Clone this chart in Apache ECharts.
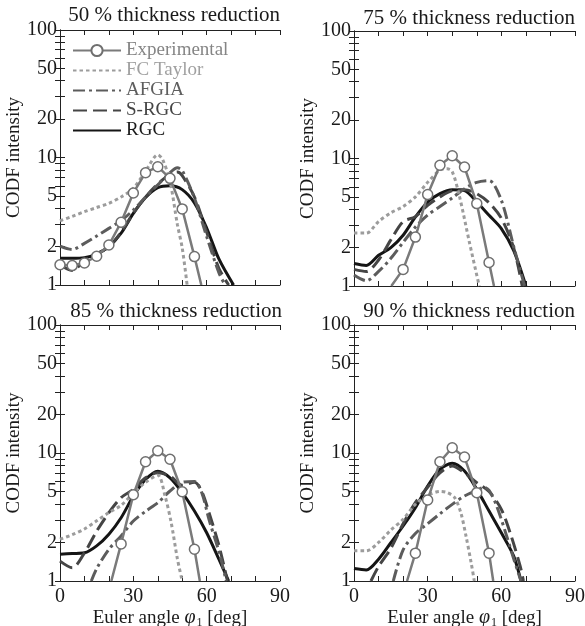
<!DOCTYPE html>
<html>
<head>
<meta charset="utf-8">
<script src="https://cdn.jsdelivr.net/npm/echarts@6/dist/echarts.min.js"></script>
<style>
html,body{margin:0;padding:0;background:#fff;}
#chart{width:585px;height:626px;}
</style>
</head>
<body>
<div id="chart"></div>
<script>
// ---- data ----
const seriesNames = ['Experimental', 'FC Taylor', 'AFGIA', 'S-RGC', 'RGC'];
const panelTitles = ['50 % thickness reduction', '75 % thickness reduction', '85 % thickness reduction', '90 % thickness reduction'];
const xLabelValues = [0, 30, 60, 90];
const yLabelValues = [1, 2, 5, 10, 20, 50, 100];
const yTickValues = [1,2,3,4,5,6,7,8,9,10,20,30,40,50,60,70,80,90,100];

// 50 %
const exp50 = [[0,1.44],[5,1.42],[10,1.49],[15,1.68],[20,2.06],[25,3.1],[30,5.27],[35,7.6],[40,8.47],[45,6.86],[50,3.95],[55,1.67],[57.8,1]];
const fct50 = [[0,3.19],[5,3.45],[10,3.76],[15,4.05],[20,4.37],[25,4.9],[30,5.73],[35,7.8],[40,10.5],[42,9.6],[45,6.5],[48,3.0],[50,1.95],[52,1]];
const afgia50 = [[0,2.02],[5,1.9],[10,2.12],[15,2.42],[20,2.78],[25,3.2],[30,3.87],[35,4.9],[40,6.1],[45,7.6],[48,8.3],[50,7.9],[55,4.8],[60,2.4],[65,1.25],[67.5,1]];
const srgc50 = [[0,1.44],[5,1.3],[10,1.55],[15,1.75],[20,2.0],[25,2.6],[30,3.65],[35,4.9],[40,6.2],[45,7.4],[48,7.7],[50,7.2],[55,4.9],[60,2.6],[65,1.35],[69,1]];
const rgc50 = [[0,1.62],[5,1.62],[10,1.64],[15,1.75],[20,2.0],[25,2.55],[30,3.65],[35,4.85],[40,5.8],[45,6.0],[50,5.6],[55,4.4],[60,2.8],[65,1.6],[71,1]];

// 75 %
const exp75 = [[15.2,1],[20,1.35],[25,2.42],[30,5.21],[35,8.85],[40,10.5],[45,8.58],[50,4.43],[55,1.53],[57,1]];
const fct75 = [[0,2.6],[5,2.6],[10,3.2],[15,3.75],[20,4.2],[25,5.0],[30,6.5],[35,8.1],[38,8.3],[40,7.9],[43,5.0],[47,2.2],[51,1]];
const afgia75 = [[0,1.22],[5,1.1],[10,1.3],[15,1.65],[20,2.2],[25,2.9],[30,3.6],[35,4.2],[40,4.9],[45,5.8],[50,6.5],[55,6.7],[60,4.7],[65,2.05],[69.5,1]];
const srgc75 = [[0,1.35],[5,1.3],[10,1.6],[15,2.3],[20,3.2],[25,3.5],[30,4.3],[35,5.0],[40,5.6],[45,5.7],[50,5.3],[55,4.5],[60,3.4],[65,2.0],[68.5,1]];
const rgc75 = [[0,1.5],[5,1.45],[10,1.74],[15,2.0],[20,2.5],[25,3.48],[30,4.56],[35,5.3],[40,5.7],[45,5.6],[50,4.56],[55,3.59],[60,2.82],[65,1.9],[70,1]];

// 85 %
const exp85 = [[21,1],[25,1.95],[30,4.72],[35,8.55],[40,10.4],[45,8.93],[50,4.98],[55,1.77],[57.2,1]];
const fct85 = [[0,2.12],[5,2.3],[10,2.55],[15,2.95],[20,3.42],[25,3.9],[30,4.85],[35,5.9],[40,6.7],[43,4.6],[45.5,2.85],[48,1.5],[50,1]];
const afgia85 = [[12.8,1],[15,1.25],[20,1.77],[25,2.25],[30,2.94],[35,3.5],[40,4.09],[45,5.05],[50,5.9],[55,6.0],[58,4.9],[61,3.0],[65,1.7],[68,1]];
const srgc85 = [[0,1.43],[5,1.27],[10,1.66],[15,2.45],[20,3.42],[25,4.48],[30,5.2],[35,6.4],[40,7.0],[45,6.6],[50,5.6],[55,5.9],[58,5.0],[61,3.4],[65,1.9],[68.5,1]];
const rgc85 = [[0,1.62],[5,1.64],[10,1.66],[15,1.88],[20,2.32],[25,3.12],[30,4.6],[35,6.2],[40,7.2],[45,6.4],[50,4.9],[55,3.52],[60,2.38],[65,1.48],[69,1]];

// 90 %
const exp90 = [[21.6,1],[25,1.65],[30,4.29],[35,8.55],[40,11.0],[45,9.3],[50,4.9],[55,1.65],[56.7,1]];
const fct90 = [[0,1.72],[5,1.72],[10,2.0],[15,2.5],[20,3.03],[25,3.97],[30,4.67],[35,5.0],[38,4.9],[41,4.48],[43.5,3.42],[45.6,2.25],[47.7,1.39],[49,1]];
const afgia90 = [[16,1],[20,1.75],[25,2.35],[30,2.8],[35,3.35],[40,3.97],[45,4.61],[50,5.1],[53,5.4],[55,5.1],[58,3.9],[62,2.3],[65,1.5],[68,1]];
const srgc90 = [[6.9,1],[10,1.3],[15,1.8],[20,2.8],[25,4.09],[30,5.4],[35,7.0],[40,7.9],[45,7.0],[50,5.86],[55,5.0],[60,3.63],[64,2.25],[67.7,1.3],[69,1]];
const rgc90 = [[0,1.25],[5,1.22],[10,1.48],[15,1.99],[20,2.69],[25,3.74],[30,5.52],[35,7.45],[40,8.3],[45,7.23],[50,5.2],[55,3.52],[60,2.38],[65,1.57],[68,1]];

const panels = [
  [exp50, fct50, afgia50, srgc50, rgc50],
  [exp75, fct75, afgia75, srgc75, rgc75],
  [exp85, fct85, afgia85, srgc85, rgc85],
  [exp90, fct90, afgia90, srgc90, rgc90]
];

// ---- layout & style ----
const FONT = 'Liberation Serif';
const TXT = '#1a1a1a';
const grids = [
  {left: 60, top: 30, width: 220, height: 255, outerBoundsMode: 'none'},
  {left: 354, top: 31, width: 221, height: 255, outerBoundsMode: 'none'},
  {left: 60, top: 325, width: 220, height: 256, outerBoundsMode: 'none'},
  {left: 354, top: 325, width: 221, height: 256, outerBoundsMode: 'none'}
];
const styles = [
  {color: '#7a7a7a', width: 2.5, type: 'solid'},
  {color: '#9c9c9c', width: 3, type: [3.5, 3]},
  {color: '#5c5c5c', width: 3, type: [12, 4, 3, 4]},
  {color: '#454545', width: 3, type: [14, 6]},
  {color: '#151515', width: 3, type: 'solid'}
];
const legendTextColors = ['#858585', '#a0a0a0', '#5e5e5e', '#444444', '#1a1a1a'];
const titleRight = [305, 10, 303, 10];
const titleTop = [5, 8, 301, 301];
const yNameGap = [33, 34, 33, 34];

const axisLineStyle = {color: '#222', width: 1};
const xAxes = [], yAxes = [], series = [], titles = [];

grids.forEach((g, i) => {
  const bottomRow = i >= 2;
  xAxes.push({
    type: 'value', gridIndex: i, min: 0, max: 90, interval: 10, position: 'bottom',
    axisLine: {show: true, lineStyle: axisLineStyle},
    axisTick: {show: true, inside: true, length: 5, lineStyle: axisLineStyle},
    splitLine: {show: false},
    axisLabel: {
      show: bottomRow, margin: 6, fontFamily: FONT, fontSize: 20, color: TXT,
      formatter: v => xLabelValues.indexOf(v) >= 0 ? String(v) : ''
    },
    name: bottomRow ? '{n|Euler angle }{p|φ}{s|1}{n| [deg]}' : '',
    nameLocation: 'middle', nameGap: 25,
    nameTextStyle: {
      fontFamily: FONT, fontSize: 19, color: TXT,
      rich: {
        n: {fontFamily: FONT, fontSize: 19, color: TXT},
        p: {fontFamily: FONT, fontSize: 20, fontStyle: 'italic', color: TXT},
        s: {fontFamily: FONT, fontSize: 12, color: TXT, padding: [10, 0, 0, 1]}
      }
    }
  });
  xAxes.push({
    type: 'value', gridIndex: i, min: 0, max: 90, interval: 10, position: 'top',
    axisLine: {show: true, lineStyle: axisLineStyle},
    axisTick: {show: true, inside: true, length: 5, lineStyle: axisLineStyle},
    splitLine: {show: false}, axisLabel: {show: false}
  });
  yAxes.push({
    type: 'log', logBase: 10, gridIndex: i, min: 1, max: 100, position: 'left',
    axisLine: {show: true, lineStyle: axisLineStyle},
    axisTick: {show: true, inside: true, length: 5, lineStyle: axisLineStyle, customValues: yTickValues},
    splitLine: {show: false},
    axisLabel: {margin: 3, fontFamily: FONT, fontSize: 20, color: TXT, customValues: yLabelValues},
    name: 'CODF intensity', nameLocation: 'middle', nameGap: yNameGap[i],
    nameTextStyle: {fontFamily: FONT, fontSize: 19, color: TXT}
  });
  yAxes.push({
    type: 'log', logBase: 10, gridIndex: i, min: 1, max: 100, position: 'right',
    axisLine: {show: true, lineStyle: axisLineStyle},
    axisTick: {show: true, inside: true, length: 5, lineStyle: axisLineStyle, customValues: yTickValues},
    splitLine: {show: false}, axisLabel: {show: false}
  });
  titles.push({
    text: panelTitles[i], right: titleRight[i], top: titleTop[i], padding: 0,
    textStyle: {fontFamily: FONT, fontSize: 21, fontWeight: 'normal', color: TXT}
  });
  panels[i].forEach((arr, k) => {
    const st = styles[k];
    const isExp = k === 0;
    series.push({
      name: seriesNames[k], type: 'line',
      xAxisIndex: 2 * i, yAxisIndex: 2 * i,
      data: arr.map(p => (p[1] <= 1 ? {value: p, symbol: 'none'} : p)),
      smooth: isExp ? false : 0.3,
      symbol: isExp ? 'circle' : 'none',
      symbolSize: 10,
      showSymbol: isExp,
      clip: true,
      z: isExp ? 10 : 7 - k,
      lineStyle: {color: st.color, width: st.width, type: st.type},
      itemStyle: isExp ? {color: '#ffffff', borderColor: '#6f6f6f', borderWidth: 1.5} : {color: st.color},
      emphasis: {disabled: true}
    });
  });
});

const chart = echarts.init(document.getElementById('chart'), null, {renderer: 'canvas'});
chart.setOption({
  animation: false,
  backgroundColor: '#ffffff',
  title: titles,
  grid: grids,
  xAxis: xAxes,
  yAxis: yAxes,
  legend: {
    orient: 'vertical', left: 72, top: 41, padding: 0,
    itemWidth: 48, itemHeight: 14, itemGap: 1,
    selectedMode: false,
    data: seriesNames.map((n, k) => (k === 0
      ? {name: n, textStyle: {color: legendTextColors[k]}}
      : {name: n, textStyle: {color: legendTextColors[k]}, itemStyle: {opacity: 0}})),
    textStyle: {fontFamily: FONT, fontSize: 19, lineHeight: 19}
  },
  series: series
});
</script>
</body>
</html>
